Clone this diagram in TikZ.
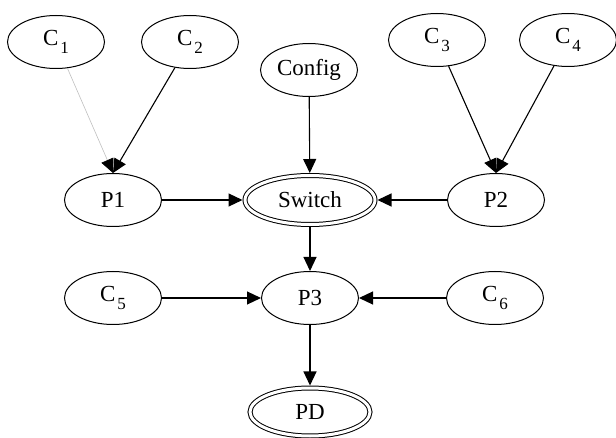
\documentclass[tikz,border=0pt]{standalone}
\usepackage{fontspec}
\setmainfont{Liberation Serif}
\newcommand*{\nodefont}{\fontsize{23}{27}\selectfont}
\newcommand*{\csub}[1]{\kern2pt\raisebox{-0.33em}{\fontsize{17}{17}\selectfont #1}}
\definecolor{lightgrey}{gray}{0.75}
\usetikzlibrary{arrows.meta}
\usetikzlibrary{shapes.geometric}
\tikzstyle{state}=[ellipse, draw=black, line width=1pt, inner sep=0pt, minimum width=97pt, minimum height=53pt]
\tikzstyle{final}=[state, double, double distance=3pt, outer sep=2.5pt]
\tikzstyle{arc}=[draw=black, line width=1.1pt, -{Triangle[length=14pt, width=13pt]}]
\tikzstyle{faintarc}=[arc, draw=lightgrey, line width=0.6pt, -{Triangle[length=14pt, width=13pt, color=black]}]

\begin{document}
\begin{tikzpicture}[x=1pt, y=-1pt]
    \nodefont
        \path [use as bounding box] (0,0) rectangle (616,438);
        % sources
        \node [state] (c1) at (56,42) {C\csub{1}};
        \node [state] (c2) at (190,42) {C\csub{2}};
        \node [state] (config) at (309,70) {Config};
        \node [state] (c3) at (437,40) {C\csub{3}};
        \node [state] (c4) at (568,40) {C\csub{4}};
        % middle row
        \node [state] (p1) at (113,200) {P1};
        \node [final, minimum width=130pt, minimum height=49pt] (switch) at (310,200) {Switch};
        \node [state] (p2) at (496,200) {P2};
        \node [state] (c5) at (113,298) {C\csub{5}};
        \node [state] (p3) at (310,298) {P3};
        \node [state] (c6) at (495,298) {C\csub{6}};
        \node [final, minimum width=120pt, minimum height=48pt] (pd) at (310,412) {PD};
        % edges
        \draw [faintarc] (c1) -- (p1.north);
        \draw [arc] (c2) -- (p1.north);
        \draw [arc] (c3) -- (p2.north);
        \draw [arc] (c4) -- (p2.north);
        \draw [arc] (config) -- (switch);
        \draw [arc] (p1) -- (switch);
        \draw [arc] (p2) -- (switch);
        \draw [arc] (switch) -- (p3);
        \draw [arc] (c5) -- (p3);
        \draw [arc] (c6) -- (p3);
        \draw [arc] (p3) -- (pd);
    \end{tikzpicture}
\end{document}
